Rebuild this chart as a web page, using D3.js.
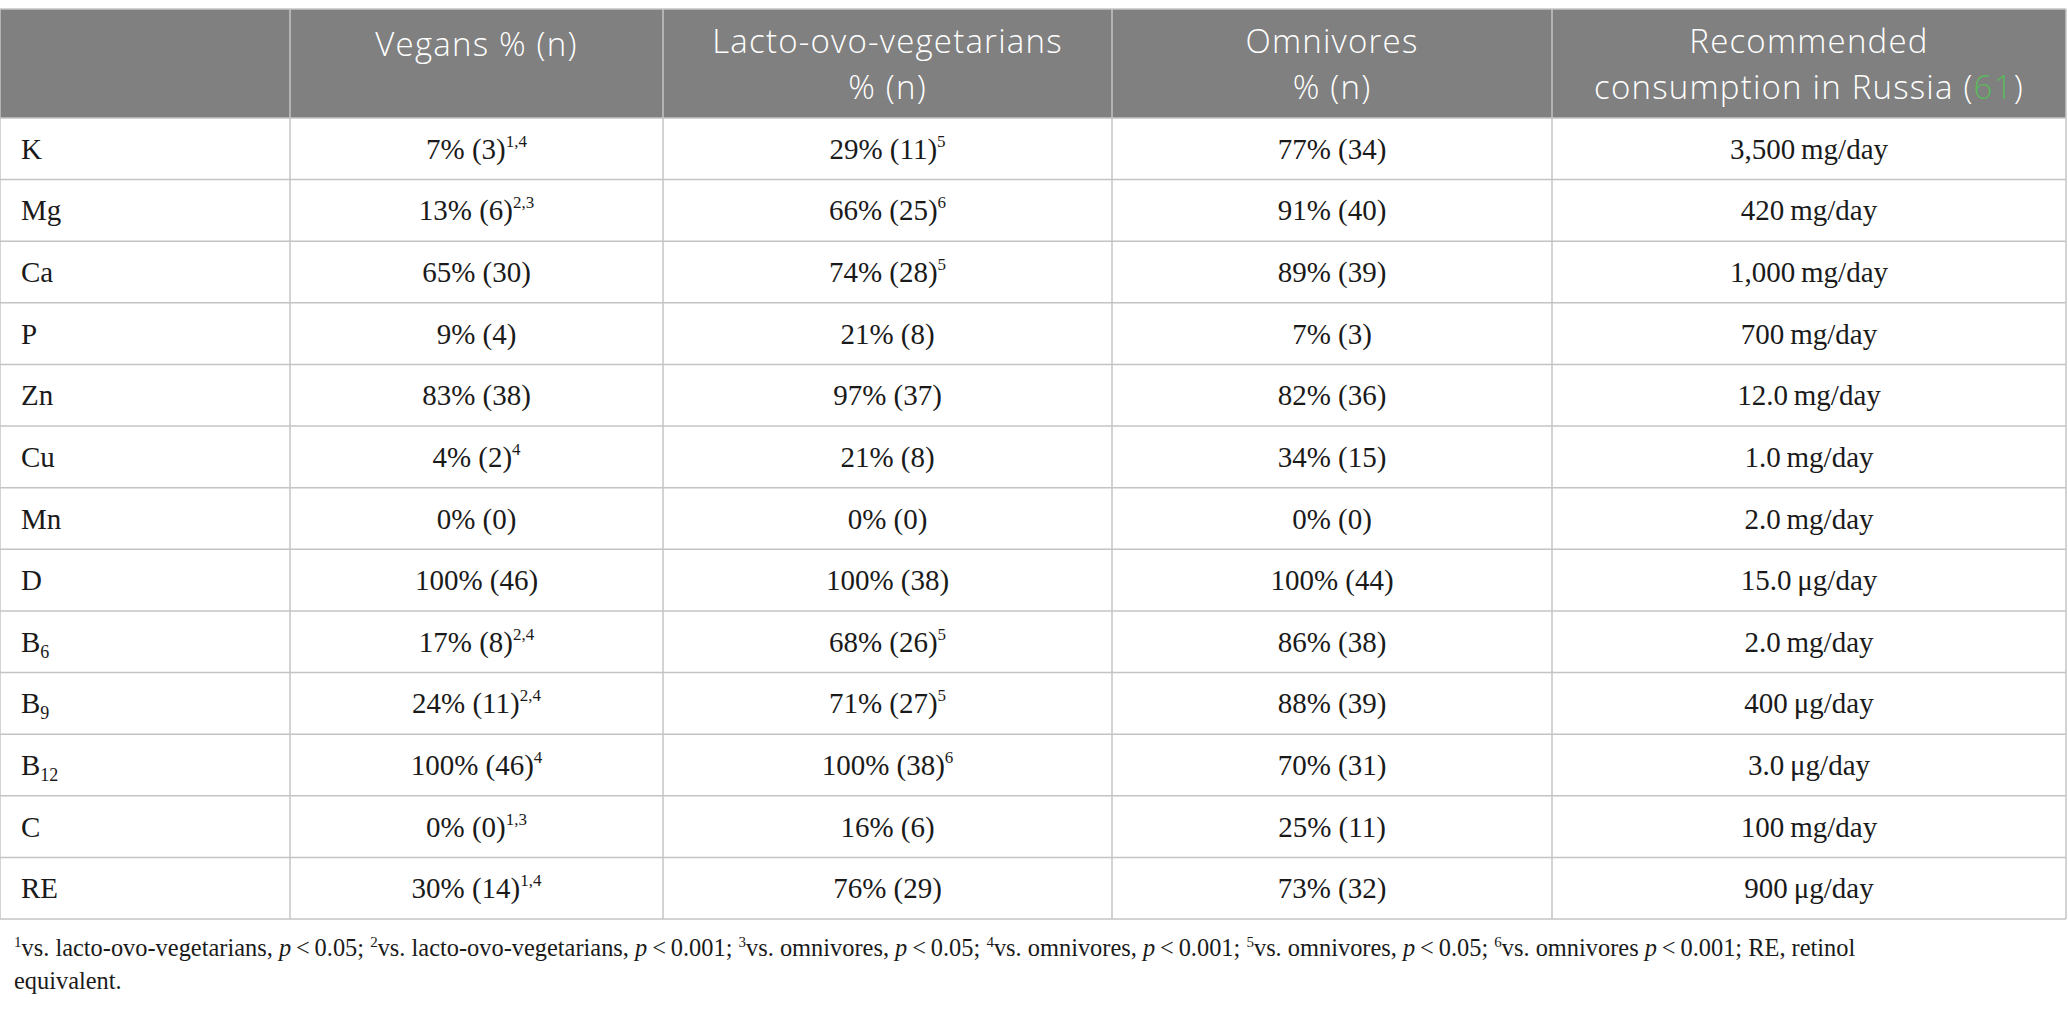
<!DOCTYPE html>
<html>
<head>
<meta charset="utf-8">
<script src="https://cdn.jsdelivr.net/npm/d3@7"></script>
<style>
  body { margin: 0; background: #fff; }
</style>
</head>
<body>
<div id="vis"></div>
<script>
// Table content
const NUTRIENTS = [["K",""],["Mg",""],["Ca",""],["P",""],["Zn",""],["Cu",""],["Mn",""],["D",""],["B","6"],["B","9"],["B","12"],["C",""],["RE",""]];
const VEGANS = ["7% (3)","13% (6)","65% (30)","9% (4)","83% (38)","4% (2)","0% (0)","100% (46)","17% (8)","24% (11)","100% (46)","0% (0)","30% (14)"];
const VEGANS_NOTES = ["1,4","2,3","","","","4","","","2,4","2,4","4","1,3","1,4"];
const LACTO = ["29% (11)","66% (25)","74% (28)","21% (8)","97% (37)","21% (8)","0% (0)","100% (38)","68% (26)","71% (27)","100% (38)","16% (6)","76% (29)"];
const LACTO_NOTES = ["5","6","5","","","","","","5","5","6","",""];
const OMNIVORES = ["77% (34)","91% (40)","89% (39)","7% (3)","82% (36)","34% (15)","0% (0)","100% (44)","86% (38)","88% (39)","70% (31)","25% (11)","73% (32)"];
const RECOMMENDED = ["3,500\u2009mg/day","420\u2009mg/day","1,000\u2009mg/day","700\u2009mg/day","12.0\u2009mg/day","1.0\u2009mg/day","2.0\u2009mg/day","15.0\u2009\u03bcg/day","2.0\u2009mg/day","400\u2009\u03bcg/day","3.0\u2009\u03bcg/day","100\u2009mg/day","900\u2009\u03bcg/day"];
const HEADERS = [[""],["Vegans % (n)"],["Lacto-ovo-vegetarians","% (n)"],["Omnivores","% (n)"],["Recommended","consumption in Russia ("]];
const FOOTNOTES = [
  [["1","sup"],["vs. lacto-ovo-vegetarians, ",""],["p","i"],["\u2009<\u20090.05; ",""],
   ["2","sup"],["vs. lacto-ovo-vegetarians, ",""],["p","i"],["\u2009<\u20090.001; ",""],
   ["3","sup"],["vs. omnivores, ",""],["p","i"],["\u2009<\u20090.05; ",""],
   ["4","sup"],["vs. omnivores, ",""],["p","i"],["\u2009<\u20090.001; ",""],
   ["5","sup"],["vs. omnivores, ",""],["p","i"],["\u2009<\u20090.05; ",""],
   ["6","sup"],["vs. omnivores ",""],["p","i"],["\u2009<\u20090.001; RE, retinol",""]],
  [["equivalent.",""]]
];

const WIDTH = 2068, HEIGHT = 1013;
const TABLE = {left: 0, right: 2066, top: 9, header: 118, bottom: 919};
const COL_WEIGHTS = [290, 373, 449, 440, 514];

const SVG = d3.select("#vis").append("svg")
  .attr("width", WIDTH).attr("height", HEIGHT);

// column scale from cumulative weights
const edges = [0];
COL_WEIGHTS.forEach((w) => edges.push(edges[edges.length - 1] + w));
const X = d3.scaleLinear().domain([0, edges[edges.length - 1]]).range([TABLE.left, TABLE.right]);
const Y = d3.scaleBand().domain(d3.range(NUTRIENTS.length)).range([TABLE.header, TABLE.bottom]);
const colCenter = (i) => (X(edges[i]) + X(edges[i + 1])) / 2;

// header background
SVG.append("rect")
  .attr("x", TABLE.left).attr("y", TABLE.top)
  .attr("width", TABLE.right - TABLE.left).attr("height", TABLE.header - TABLE.top)
  .attr("fill", "#808080");

// grid lines
const GRID = SVG.append("g").attr("stroke", "#c4c4c4").attr("stroke-width", 1.5);
GRID.selectAll("line.h")
  .data([TABLE.top].concat(d3.range(NUTRIENTS.length).map((i) => Y(i))).concat([TABLE.bottom]))
  .enter().append("line")
  .attr("x1", TABLE.left).attr("x2", TABLE.right)
  .attr("y1", (d) => d).attr("y2", (d) => d);
GRID.selectAll("line.v")
  .data(edges)
  .enter().append("line")
  .attr("x1", (d) => X(d)).attr("x2", (d) => X(d))
  .attr("y1", TABLE.top).attr("y2", TABLE.bottom);

// header text: one text per column, lines as tspans
const HEAD = SVG.append("g")
  .attr("font-family", "'Open Sans', 'Noto Sans', sans-serif")
  .attr("font-weight", 300)
  .attr("font-size", 33)
  .attr("letter-spacing", 1.2)
  .attr("fill", "#fff")
  .attr("text-anchor", "middle");
HEADERS.forEach((lines, i) => {
  const t = HEAD.append("text").attr("x", colCenter(i)).attr("y", lines.length > 1 ? 53 : 56);
  lines.forEach((line, j) => {
    t.append("tspan")
      .attr("x", colCenter(i))
      .attr("dy", j === 0 ? 0 : 46)
      .text(line);
    if (i === 4 && j === 1) {
      t.append("tspan").attr("fill", "#5cb85c").text("61");
      t.append("tspan").text(")");
    }
  });
});

// body text
const BODY = SVG.append("g")
  .attr("font-family", "'Liberation Serif', 'DejaVu Serif', serif")
  .attr("font-size", 29)
  .attr("fill", "#1a1a1a");
const baseline = (i) => Y(i) + Y.bandwidth() / 2 + 10;

NUTRIENTS.forEach((n, i) => {
  const t = BODY.append("text").attr("x", 21).attr("y", baseline(i));
  t.append("tspan").text(n[0]);
  if (n[1]) t.append("tspan").attr("font-size", 18).attr("dy", 6).text(n[1]);
});

function cell(col, rows, notes) {
  rows.forEach((v, i) => {
    const t = BODY.append("text")
      .attr("x", colCenter(col)).attr("y", baseline(i))
      .attr("text-anchor", "middle");
    t.append("tspan").text(v);
    if (notes && notes[i]) t.append("tspan").attr("font-size", 17).attr("dy", -12).text(notes[i]);
  });
}
cell(1, VEGANS, VEGANS_NOTES);
cell(2, LACTO, LACTO_NOTES);
cell(3, OMNIVORES, null);
cell(4, RECOMMENDED, null);

// footnotes
const FOOT = SVG.append("g")
  .attr("font-family", "'Liberation Serif', 'DejaVu Serif', serif")
  .attr("font-size", 24.4)
  .attr("fill", "#1a1a1a");
FOOTNOTES.forEach((parts, j) => {
  const t = FOOT.append("text").attr("x", 14).attr("y", 956 + j * 33);
  parts.forEach((p) => {
    const s = t.append("tspan").text(p[0]);
    if (p[1] === "sup") s.attr("font-size", 15).attr("baseline-shift", "9");
    if (p[1] === "i") s.attr("font-style", "italic");
  });
});
</script>
</body>
</html>
